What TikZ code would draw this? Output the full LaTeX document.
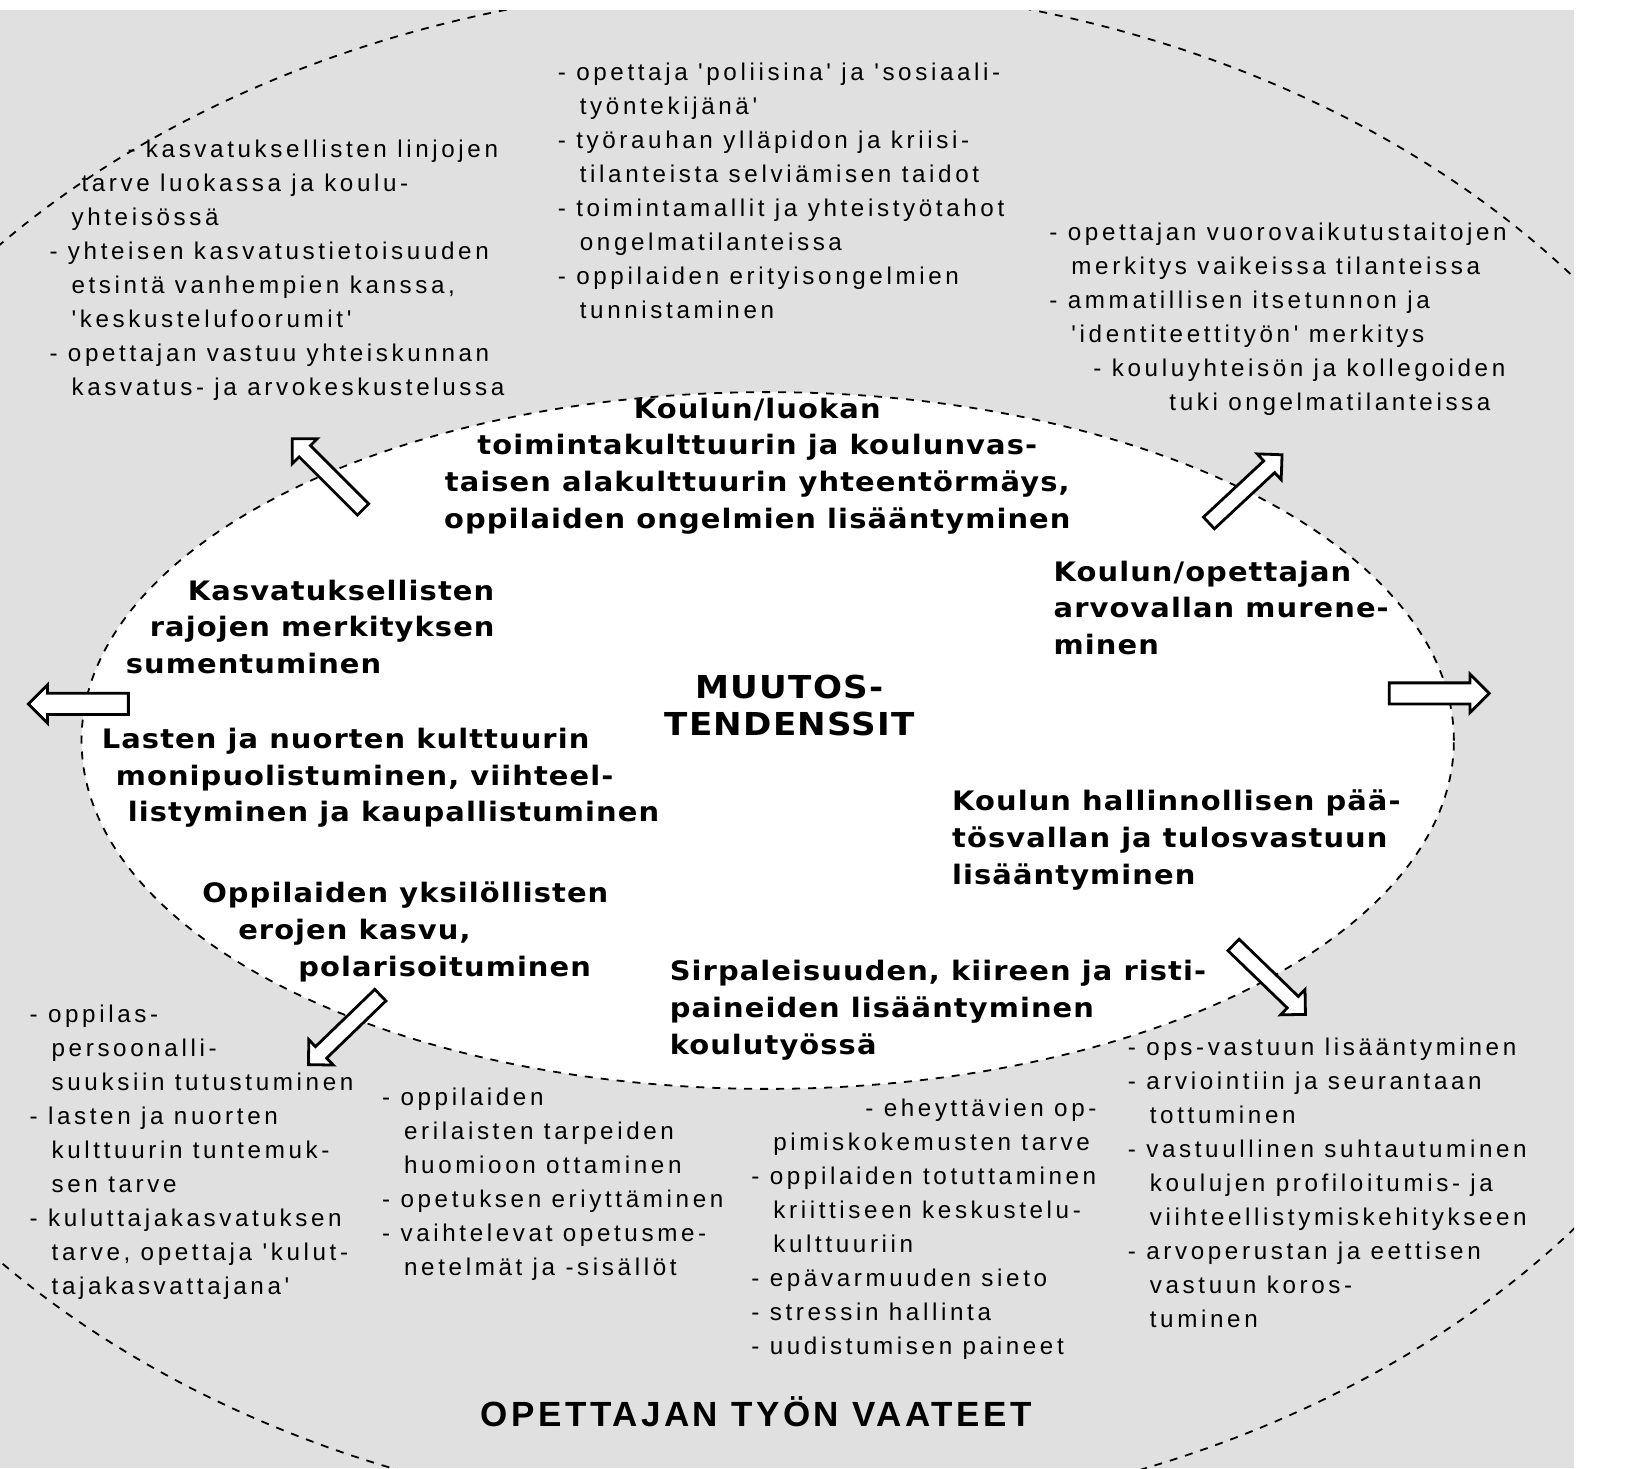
\documentclass[tikz,border=0pt]{standalone}
\usepackage{fontspec}
\setmainfont{Liberation Sans}
\newfontfamily\ulkofont[LetterSpace=15]{Liberation Sans}
\newfontfamily\sisafont[FakeStretch=1.08,LetterSpace=4]{DejaVu Sans Bold}
\newfontfamily\otsikkofont[LetterSpace=10]{Liberation Sans}
\usetikzlibrary{shapes.arrows}
\newcommand\sis{\hspace*{11pt}}
\tikzset{
  sisa/.style={font=\sisafont\fontsize{13.4}{18.3}\selectfont,align=left,anchor=north west,inner sep=0pt},
  ulko/.style={font=\ulkofont\fontsize{12.1}{17}\selectfont,align=left,anchor=north west,inner sep=0pt},
  raja/.style={dash pattern=on 4pt off 4pt,line width=0.9pt},
  nuoli/.style={single arrow,draw,fill=white,line width=1.4pt,inner sep=3.3pt,minimum height=50pt,single arrow head extend=4.8pt},
  isonuoli/.style={nuoli,inner sep=4.6pt,single arrow head extend=4.3pt},
}
\begin{document}
\begin{tikzpicture}[x=0.523pt,y=-0.523pt]
\useasboundingbox (0,0) rectangle (1568,1404);
% tausta ja ellipsit
\fill[black!12] (0,10) rectangle (1505,1404);
\begin{scope}
  \clip (0,10) rectangle (1505,1404);
  \draw[raja] (735,720) ellipse [x radius=512.5pt, y radius=384.4pt];
\end{scope}
\filldraw[raja,fill=white] (734,708) ellipse [x radius=343.1pt, y radius=174.2pt];
% muutostendenssit
\node[sisa,align=center,anchor=north] (ristiriita) at (724,380) {Koulun/luokan\\ toimintakulttuurin ja koulunvas-\\ taisen alakulttuurin yhteentörmäys,\\ oppilaiden ongelmien lisääntyminen};
\node[sisa] (rajat) at (120,554) {\hspace*{31pt}Kasvatuksellisten\\ \hspace*{12pt}rajojen merkityksen\\ sumentuminen};
\node[sisa] (kulttuuri) at (97,696) {Lasten ja nuorten kulttuurin\\ \hspace*{7pt}monipuolistuminen, viihteel-\\ \hspace*{13pt}listyminen ja kaupallistuminen};
\node[sisa] (erot) at (193,843) {Oppilaiden yksilöllisten\\ \hspace*{18pt}erojen kasvu,\\ \hspace*{48pt}polarisoituminen};
\node[sisa] (kiire) at (640,918) {Sirpaleisuuden, kiireen ja risti-\\ paineiden lisääntyminen\\ koulutyössä};
\node[sisa] (hallinto) at (910,755) {Koulun hallinnollisen pää-\\ tösvallan ja tulosvastuun\\ lisääntyminen};
\node[sisa] (arvovalta) at (1007,536) {Koulun/opettajan\\ arvovallan murene-\\ minen};
\node[sisa,font=\sisafont\fontsize{15.8}{18.3}\selectfont,align=center,anchor=north] (muutos) at (755,645) {MUUTOS-\\ TENDENSSIT};
% opettajan tyon vaateet
\node[ulko] (linjat) at (47,133) {\hspace*{39pt}- kasvatuksellisten linjojen\\ \hspace*{16pt}tarve luokassa ja koulu-\\ \sis yhteisössä\\ - yhteisen kasvatustietoisuuden\\ \sis etsintä vanhempien kanssa,\\ \sis 'keskustelufoorumit'\\ - opettajan vastuu yhteiskunnan\\ \sis kasvatus- ja arvokeskustelussa};
\node[ulko] (poliisi) at (533,60) {- opettaja 'poliisina' ja 'sosiaali-\\ \sis työntekijänä'\\ - työrauhan ylläpidon ja kriisi-\\ \sis tilanteista selviämisen taidot\\ - toimintamallit ja yhteistyötahot\\ \sis ongelmatilanteissa\\ - oppilaiden erityisongelmien\\ \sis tunnistaminen};
\node[ulko] (vuoro) at (1003,213) {- opettajan vuorovaikutustaitojen\\ \sis merkitys vaikeissa tilanteissa\\ - ammatillisen itsetunnon ja\\ \sis 'identiteettityön' merkitys\\ \hspace*{22pt}- kouluyhteisön ja kollegoiden\\ \hspace*{60pt}tuki ongelmatilanteissa};
\node[ulko] (persoona) at (28,960) {- oppilas-\\ \sis persoonalli-\\ \sis suuksiin tutustuminen\\ - lasten ja nuorten\\ \sis kulttuurin tuntemuk-\\ \sis sen tarve\\ - kuluttajakasvatuksen\\ \sis tarve, opettaja 'kulut-\\ \sis tajakasvattajana'};
\node[ulko] (erilaiset) at (365,1040) {- oppilaiden\\ \sis erilaisten tarpeiden\\ \sis huomioon ottaminen\\ - opetuksen eriyttäminen\\ - vaihtelevat opetusme-\\ \sis netelmät ja -sisällöt};
\node[ulko] (eheys) at (718,1050) {\hspace*{57pt}- eheyttävien op-\\ \sis pimiskokemusten tarve\\ - oppilaiden totuttaminen\\ \sis kriittiseen keskustelu-\\ \sis kulttuuriin\\ - epävarmuuden sieto\\ - stressin hallinta\\ - uudistumisen paineet};
\node[ulko] (ops) at (1078,992) {- ops-vastuun lisääntyminen\\ - arviointiin ja seurantaan\\ \sis tottuminen\\ - vastuullinen suhtautuminen\\ \sis koulujen profiloitumis- ja\\ \sis viihteellistymiskehitykseen\\ - arvoperustan ja eettisen\\ \sis vastuun koros-\\ \sis tuminen};
\node[font=\otsikkofont\bfseries\fontsize{17.5}{18}\selectfont,inner sep=0pt] (vaateet) at (723,1350) {OPETTAJAN TYÖN VAATEET};
% nuolet
\node[nuoli,rotate=135] (nuoliVY) at (316,456) {};
\node[nuoli,rotate=43] (nuoliOY) at (1188,470) {};
\node[isonuoli,rotate=180] (nuoliV) at (80,673) {};
\node[isonuoli] (nuoliO) at (1371,663) {};
\node[nuoli,rotate=224] (nuoliVA) at (332,982) {};
\node[nuoli,rotate=-44] (nuoliOA) at (1211,934) {};
\end{tikzpicture}
\end{document}
